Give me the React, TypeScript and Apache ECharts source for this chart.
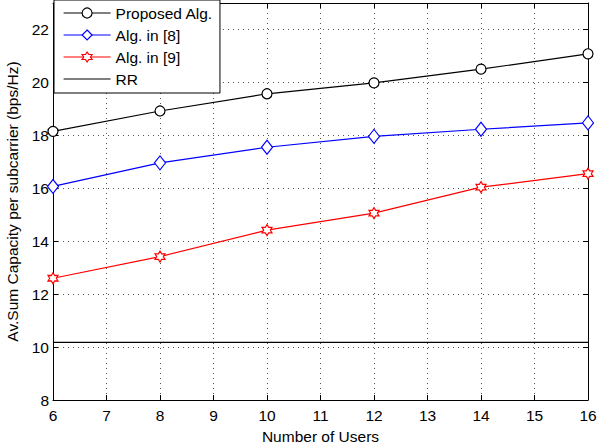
import React, { useEffect, useRef } from "react";
import * as echarts from "echarts";

const users = [6, 8, 10, 12, 14, 16];
const proposed = [18.15, 18.92, 19.57, 19.98, 20.5, 21.08];
const alg8 = [16.07, 16.96, 17.55, 17.96, 18.23, 18.47];
const alg9 = [12.6, 13.42, 14.42, 15.06, 16.04, 16.55];
const rr = [10.18, 10.18, 10.18, 10.18, 10.18, 10.18];
const seriesNames = ["Proposed Alg.", "Alg. in [8]", "Alg. in [9]", "RR"];
const xTicks = [6, 7, 8, 9, 10, 11, 12, 13, 14, 15, 16];
const yTicks = [8, 10, 12, 14, 16, 18, 20, 22];

const HEXAGRAM =
  "path://M50,0L64.4,25L93.3,25L78.9,50L93.3,75L64.4,75L50,100L35.6,75L6.7,75L21.1,50L6.7,25L35.6,25Z";

const FONT = "Liberation Sans, Arial, Helvetica, sans-serif";
const FS = 15.5;

export default function App() {
  const ref = useRef<HTMLDivElement>(null);
  useEffect(() => {
    document.body.style.margin = "0";
    const chart = echarts.init(ref.current!, null, { renderer: "svg" });
    const pairs = (ys: number[]) => users.map((u, i) => [u, ys[i]]);
    const gridLine = { show: true, lineStyle: { color: "#555", type: [1, 4] as any, width: 1 } };
    const axisLine = { show: true, lineStyle: { color: "#000", width: 1 } };
    const tick = { show: true, inside: true, length: 5, lineStyle: { color: "#000" } };
    chart.setOption({
      animation: false,
      backgroundColor: "#fff",
      textStyle: { fontFamily: FONT },
      grid: { left: 53, right: 10, top: 3, bottom: 47, containLabel: false, outerBoundsMode: "none" },
      legend: {
        orient: "vertical",
        left: 54,
        top: 0,
        data: seriesNames,
        backgroundColor: "#fff",
        borderColor: "#000",
        borderWidth: 1,
        borderRadius: 0,
        padding: [5, 7, 6, 9],
        itemWidth: 47,
        itemHeight: 12.5,
        itemGap: 6,
        lineStyle: { width: 1.2 },
        itemStyle: { borderWidth: 1.2 },
        textStyle: { color: "#000", fontSize: FS, lineHeight: 16, fontFamily: FONT },
      },
      xAxis: [
        {
          type: "value",
          min: xTicks[0],
          max: xTicks[xTicks.length - 1],
          interval: 1,
          name: "Number of Users",
          nameLocation: "middle",
          nameGap: 25,
          nameTextStyle: { color: "#000", fontSize: FS, fontFamily: FONT },
          axisLine,
          axisTick: tick,
          axisLabel: { color: "#000", fontSize: FS, margin: 7.5, fontFamily: FONT },
          splitLine: gridLine,
        },
        {
          type: "value",
          position: "top",
          min: xTicks[0],
          max: xTicks[xTicks.length - 1],
          interval: 1,
          axisLine,
          axisTick: tick,
          axisLabel: { show: false },
          splitLine: { show: false },
        },
      ],
      yAxis: [
        {
          type: "value",
          min: yTicks[0],
          max: 23,
          interval: 2,
          name: "Av.Sum Capacity per subcarrier (bps/Hz)",
          nameLocation: "middle",
          nameGap: 28.5,
          nameTextStyle: { color: "#000", fontSize: FS, fontFamily: FONT },
          axisLine,
          axisTick: tick,
          axisLabel: { color: "#000", fontSize: FS, margin: 4, showMaxLabel: false, fontFamily: FONT },
          splitLine: gridLine,
        },
        {
          type: "value",
          position: "right",
          min: yTicks[0],
          max: 23,
          interval: 2,
          axisLine,
          axisTick: tick,
          axisLabel: { show: false },
          splitLine: { show: false },
        },
      ],
      series: [
        {
          name: seriesNames[0],
          type: "line",
          data: pairs(proposed),
          symbol: "circle",
          symbolSize: 10,
          lineStyle: { color: "#000", width: 1.2 },
          itemStyle: { color: "#fff", borderColor: "#000", borderWidth: 1.2 },
          z: 5,
        },
        {
          name: seriesNames[1],
          type: "line",
          data: pairs(alg8),
          symbol: "diamond",
          symbolSize: [11, 14],
          lineStyle: { color: "#0000ff", width: 1.2 },
          itemStyle: { color: "#fff", borderColor: "#0000ff", borderWidth: 1.2 },
          z: 5,
        },
        {
          name: seriesNames[2],
          type: "line",
          data: pairs(alg9),
          symbol: HEXAGRAM,
          symbolSize: [10, 11],
          lineStyle: { color: "#ff0000", width: 1.2 },
          itemStyle: { color: "#fff", borderColor: "#ff0000", borderWidth: 1.2 },
          z: 5,
        },
        {
          name: seriesNames[3],
          type: "line",
          data: pairs(rr),
          symbol: "none",
          lineStyle: { color: "#000", width: 1.2 },
          itemStyle: { color: "transparent", borderColor: "transparent", borderWidth: 0 },
          z: 4,
        },
      ],
    });
    return () => chart.dispose();
  }, []);
  return <div ref={ref} style={{ width: 598, height: 447 }} />;
}
